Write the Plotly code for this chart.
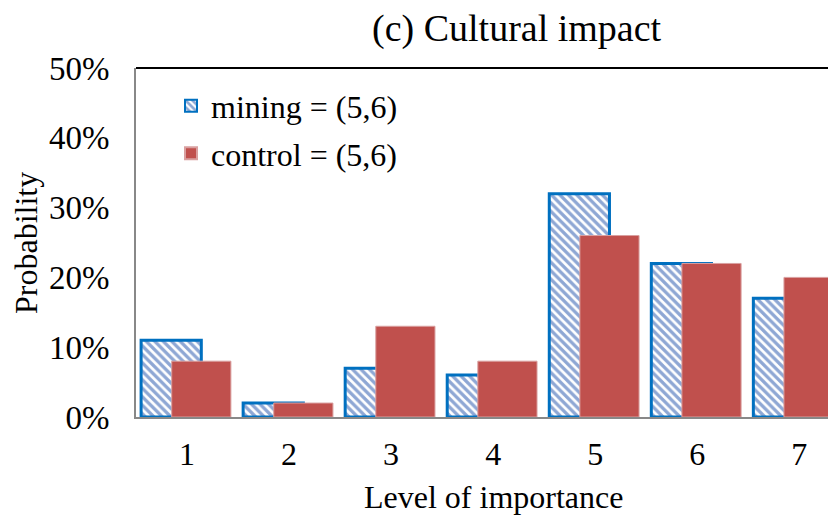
import plotly.graph_objects as go

# data
levels = [1, 2, 3, 4, 5, 6, 7]
mining = [0.11, 0.02, 0.07, 0.06, 0.32, 0.22, 0.17]
control = [0.08, 0.02, 0.13, 0.08, 0.26, 0.22, 0.20]
y_ticks = [0, 0.1, 0.2, 0.3, 0.4, 0.5]
y_labels = ["0%", "10%", "20%", "30%", "40%", "50%"]

serif = "Liberation Serif, Times New Roman, serif"


def f(size):
    return dict(family=serif, size=size, color="black")


def make_chart():
    fig = go.Figure()
    fig.add_trace(go.Bar(
        x=levels, y=mining, name="mining = (5,6)", legendgroup="a",
        width=0.59, offset=-0.45,
        marker=dict(color="white",
                    line=dict(color="#0070C0", width=3),
                    pattern=dict(shape="\\", fgcolor="#1E50AA", bgcolor="white",
                                 size=6, solidity=0.55)),
    ))
    fig.add_trace(go.Bar(
        x=levels, y=control, name="control = (5,6)", legendgroup="b",
        width=0.58, offset=-0.15,
        marker=dict(color="#C0504D", line=dict(color="#D9A0A0", width=1)),
    ))

    # page body has an 8px margin, so the figure is shifted by that much
    fig.update_layout(
        width=828, height=512,
        barmode="overlay",
        plot_bgcolor="white", paper_bgcolor="white",
        margin=dict(l=128, r=0, t=60, b=103, autoexpand=False),
        font=f(30),
        showlegend=True,
        legend=dict(x=0.05, y=0.97, xanchor="left", yanchor="top",
                    bgcolor="rgba(0,0,0,0)", font=f(32),
                    traceorder="grouped", tracegroupgap=3,
                    itemsizing="constant"),
        xaxis=dict(range=[0.5, 7.36], tickvals=levels, showgrid=False,
                   showline=True, linecolor="#888888", linewidth=2,
                   ticks="", zeroline=False, tickfont=f(32),
                   ticklabelstandoff=8, automargin=False),
        yaxis=dict(range=[0, 0.5], tickvals=y_ticks, ticktext=y_labels,
                   showgrid=False, showline=True, linecolor="#888888",
                   linewidth=2, ticks="", zeroline=False, tickfont=f(33),
                   ticklabelstandoff=18, automargin=False),
    )
    # black top border of the plot area
    fig.add_shape(type="line", xref="paper", yref="paper",
                  x0=0, x1=1, y0=1, y1=1, line=dict(color="black", width=2))
    # title and axis titles
    fig.add_annotation(text="(c) Cultural impact", xref="paper", yref="paper",
                       x=(517 - 136) / 700, y=1, yshift=40, showarrow=False,
                       font=f(38), yanchor="middle")
    fig.add_annotation(text="Level of importance", xref="x", yref="paper",
                       x=4, y=0, yshift=-80, showarrow=False,
                       font=f(32), yanchor="middle")
    fig.add_annotation(text="Probability", xref="paper", yref="paper",
                       x=0, xshift=-110, y=(417 - 243) / 349, showarrow=False,
                       textangle=-90, font=f(32), xanchor="center",
                       yanchor="middle")
    fig.write_html("out.html")


if __name__ == "__main__":
    make_chart()
